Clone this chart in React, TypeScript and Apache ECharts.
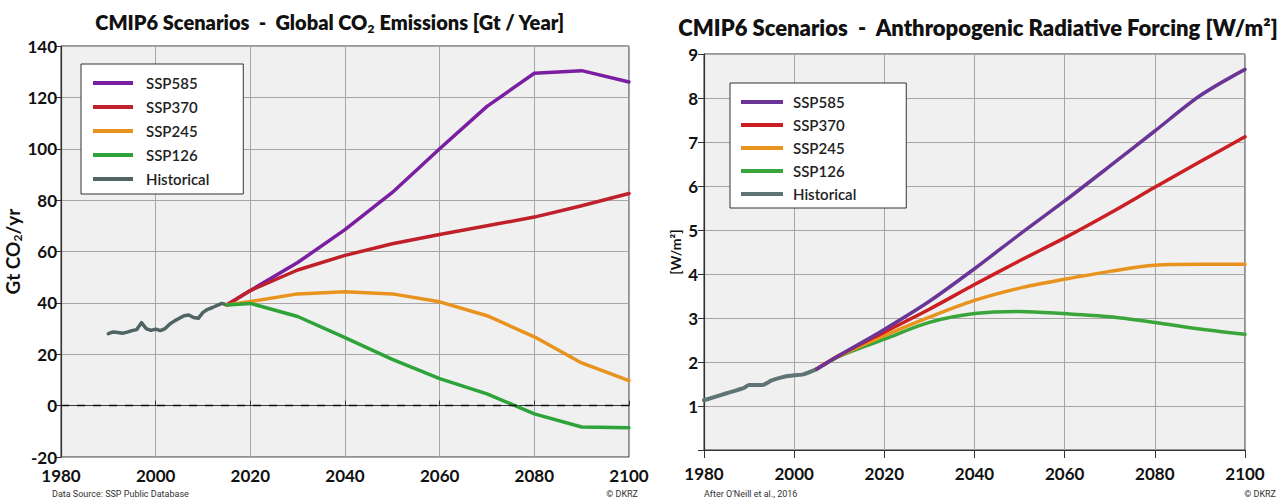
import React, { useEffect, useRef } from "react";
import * as echarts from "echarts";

// ---------- Left chart: Global CO2 emissions [Gt / Year] ----------
const emHistYears = [1990, 1991, 1992, 1993, 1994, 1995, 1996, 1997, 1998, 1999, 2000, 2001, 2002, 2003, 2004, 2005, 2006, 2007, 2008, 2009, 2010, 2011, 2012, 2013, 2014, 2015];
const emHistValues = [28.0, 28.7, 28.5, 28.2, 28.6, 29.2, 29.6, 32.3, 30.0, 29.3, 29.8, 29.2, 30.0, 31.8, 33.0, 34.0, 35.0, 35.3, 34.3, 34.0, 36.3, 37.5, 38.2, 39.0, 39.8, 39.2];
const emScenYears = [2015, 2020, 2030, 2040, 2050, 2060, 2070, 2080, 2090, 2100];
const emSSP585 = [39.2, 44.8, 55.7, 68.5, 83.0, 100.0, 116.5, 129.4, 130.4, 126.0];
const emSSP370 = [39.2, 44.8, 52.8, 58.5, 63.0, 66.6, 70.0, 73.4, 77.8, 82.6];
const emSSP245 = [39.2, 40.5, 43.5, 44.3, 43.5, 40.4, 35.0, 26.8, 16.6, 9.7];
const emSSP126 = [39.2, 39.8, 34.7, 26.5, 18.0, 10.5, 4.6, -3.2, -8.3, -8.6];

// ---------- Right chart: Anthropogenic radiative forcing [W/m2] ----------
const rfHistYears = [1980, 1985, 1989, 1990, 1993, 1995, 1998, 2000, 2002, 2005];
const rfHistValues = [1.13, 1.29, 1.42, 1.48, 1.48, 1.58, 1.67, 1.70, 1.72, 1.84];
const rfScenYears = [2005, 2010, 2020, 2030, 2040, 2050, 2060, 2070, 2080, 2090, 2100];
const rfSSP585 = [1.84, 2.15, 2.74, 3.38, 4.12, 4.90, 5.66, 6.45, 7.25, 8.05, 8.65];
const rfSSP370 = [1.84, 2.15, 2.68, 3.20, 3.76, 4.30, 4.82, 5.38, 5.97, 6.55, 7.12];
const rfSSP245 = [1.84, 2.14, 2.60, 3.02, 3.40, 3.68, 3.88, 4.06, 4.20, 4.22, 4.22];
const rfSSP126 = [1.84, 2.13, 2.52, 2.90, 3.10, 3.15, 3.10, 3.03, 2.90, 2.75, 2.63];

const legendNames = ["SSP585", "SSP370", "SSP245", "SSP126", "Historical"];
const xTicks = [1980, 2000, 2020, 2040, 2060, 2080, 2100];

const leftColors: Record<string, string> = {
  SSP585: "#7b1fa2",
  SSP370: "#c0202a",
  SSP245: "#e8931e",
  SSP126: "#2ea33a",
  Historical: "#4f6463",
};
const rightColors: Record<string, string> = {
  SSP585: "#6a3596",
  SSP370: "#cc1f24",
  SSP245: "#e8931e",
  SSP126: "#3aa53a",
  Historical: "#5f7474",
};

const FONT = "Lato, 'Open Sans', sans-serif";

function pairs(xs: number[], ys: number[]) {
  return xs.map((x, i) => [x, ys[i]]);
}

export default function App() {
  const ref = useRef<HTMLDivElement>(null);

  useEffect(() => {
    if (!ref.current) return;
    const chart = echarts.init(ref.current, undefined, { renderer: "svg" });

    const axisLabel = {
      fontSize: 17,
      fontWeight: "bold" as const,
      color: "#111",
      fontFamily: FONT,
    };
    const splitLine = { show: true, lineStyle: { color: "#a6a6a6", width: 1 } };
    const axisLine = { show: true, lineStyle: { color: "#333", width: 1.2 } };
    const yearFmt = (v: number) => String(v);

    const lineSeries = (
      name: string,
      data: number[][],
      color: string,
      idx: number,
      width: number,
      smooth: number | boolean,
      extra: any = {}
    ) => ({
      type: "line",
      name,
      xAxisIndex: idx,
      yAxisIndex: idx,
      data,
      showSymbol: false,
      symbol: "none",
      smooth,
      lineStyle: { color, width, join: "round", cap: "round" },
      itemStyle: { color },
      ...extra,
    });

    const legendBase = {
      orient: "vertical",
      icon: "rect",
      itemHeight: 4,
      selectedMode: false,
      backgroundColor: "#ffffff",
      borderColor: "#333",
      borderWidth: 1,
      borderRadius: 0,
    };

    const titleRich = (size: number) => ({
      a: {
        fontSize: size,
        fontWeight: 800,
        fontFamily: FONT,
        fill: "#111",
        lineHeight: size + 5,
        verticalAlign: "middle",
      },
      s: {
        fontSize: Math.round(size * 0.62),
        fontWeight: 800,
        fontFamily: FONT,
        fill: "#111",
        lineHeight: 12,
        verticalAlign: "bottom",
      },
    });

    chart.setOption({
      animation: false,
      backgroundColor: "#ffffff",
      grid: [
        {
          left: 61,
          top: 46,
          width: 568,
          height: 411,
          show: true,
          backgroundColor: "#f0f0f0",
          borderColor: "#333",
          borderWidth: 1,
        },
        {
          left: 704,
          top: 54,
          width: 541,
          height: 396,
          show: true,
          backgroundColor: "#f0f0f0",
          borderColor: "#333",
          borderWidth: 1,
        },
      ],
      xAxis: [
        {
          type: "value",
          gridIndex: 0,
          min: xTicks[0],
          max: xTicks[xTicks.length - 1],
          interval: 20,
          axisLine,
          axisTick: { show: true, inside: true, length: 5, lineStyle: { color: "#333" } },
          axisLabel: { ...axisLabel, margin: 10, formatter: yearFmt },
          splitLine,
        },
        {
          type: "value",
          gridIndex: 1,
          min: xTicks[0],
          max: xTicks[xTicks.length - 1],
          interval: 20,
          axisLine,
          axisTick: { show: true, length: 8, lineStyle: { color: "#333" } },
          axisLabel: { ...axisLabel, margin: 15, formatter: yearFmt },
          splitLine,
        },
      ],
      yAxis: [
        {
          type: "value",
          gridIndex: 0,
          min: -20,
          max: 140,
          interval: 20,
          axisLine,
          axisTick: { show: true, length: 5, lineStyle: { color: "#333" } },
          axisLabel: { ...axisLabel, margin: 4 },
          splitLine,
          name: "{a|Gt CO}{s|2}{a|/yr}",
          nameLocation: "middle",
          nameRotate: 90,
          nameGap: 32,
          nameTextStyle: {
            rich: {
              a: { fontSize: 19, fontWeight: "bold", fontFamily: FONT, color: "#111", lineHeight: 22, verticalAlign: "middle" },
              s: { fontSize: 12, fontWeight: "bold", fontFamily: FONT, color: "#111", lineHeight: 10, verticalAlign: "bottom" },
            },
          },
        },
        {
          type: "value",
          gridIndex: 1,
          min: 0,
          max: 9,
          interval: 1,
          axisLine,
          axisTick: { show: true, length: 6, lineStyle: { color: "#333" } },
          axisLabel: {
            ...axisLabel,
            margin: 6,
            formatter: (v: number) => (v === 0 ? "" : String(v)),
          },
          splitLine,
          name: "[W/m²]",
          nameLocation: "middle",
          nameRotate: 90,
          nameGap: 22,
          nameTextStyle: { fontSize: 14, fontWeight: "bold", fontFamily: FONT, color: "#111" },
        },
      ],
      legend: [
        {
          ...legendBase,
          left: 81,
          top: 64,
          padding: [10, 34, 6, 12],
          itemWidth: 40,
          itemGap: 6,
          textStyle: { fontSize: 15, fontWeight: 600, fontFamily: FONT, color: "#222", lineHeight: 18, padding: [0, 0, 0, 8] },
          data: legendNames.map((n) => ({ name: n, itemStyle: { color: leftColors[n] } })),
        },
        {
          ...legendBase,
          left: 730,
          top: 83,
          padding: [10, 50, 5, 11],
          itemWidth: 42,
          itemGap: 5,
          textStyle: { fontSize: 15, fontWeight: 600, fontFamily: FONT, color: "#222", lineHeight: 18, padding: [0, 0, 0, 5] },
          data: legendNames.map((n) => ({ name: n, itemStyle: { color: rightColors[n] } })),
        },
      ],
      graphic: [
        {
          type: "text",
          x: 330,
          y: 22,
          style: {
            text: "{a|CMIP6 Scenarios  -  Global CO}{s|2}{a| Emissions [Gt / Year]}",
            rich: titleRich(20),
            align: "center",
            verticalAlign: "middle",
          },
        },
        {
          type: "text",
          x: 978,
          y: 27,
          style: {
            text: "{a|CMIP6 Scenarios  -  Anthropogenic Radiative Forcing [W/m²]}",
            rich: titleRich(22),
            align: "center",
            verticalAlign: "middle",
          },
        },
        {
          type: "text",
          x: 52,
          y: 494,
          style: { text: "Data Source: SSP Public Database", fontSize: 9, fontFamily: "Roboto, sans-serif", fill: "#333", align: "left", verticalAlign: "middle" },
        },
        {
          type: "text",
          x: 638,
          y: 494,
          style: { text: "© DKRZ", fontSize: 9, fontFamily: "Roboto, sans-serif", fill: "#333", align: "right", verticalAlign: "middle" },
        },
        {
          type: "text",
          x: 704,
          y: 494,
          style: { text: "After O'Neill et al., 2016", fontSize: 9, fontFamily: "Roboto, sans-serif", fill: "#333", align: "left", verticalAlign: "middle" },
        },
        {
          type: "text",
          x: 1276,
          y: 494,
          style: { text: "© DKRZ", fontSize: 9, fontFamily: "Roboto, sans-serif", fill: "#333", align: "right", verticalAlign: "middle" },
        },
      ],
      series: [
        lineSeries("Historical", pairs(emHistYears, emHistValues), leftColors.Historical, 0, 3.5, false),
        lineSeries("SSP585", pairs(emScenYears, emSSP585), leftColors.SSP585, 0, 3.5, false),
        lineSeries("SSP370", pairs(emScenYears, emSSP370), leftColors.SSP370, 0, 3.5, false),
        lineSeries("SSP245", pairs(emScenYears, emSSP245), leftColors.SSP245, 0, 3.5, false),
        lineSeries("SSP126", pairs(emScenYears, emSSP126), leftColors.SSP126, 0, 3.5, false, {
          markLine: {
            silent: true,
            symbol: "none",
            label: { show: false },
            lineStyle: { type: [8, 8], color: "#111", width: 1.3 },
            data: [{ yAxis: 0 }],
          },
        }),
        lineSeries("Historical", pairs(rfHistYears, rfHistValues), rightColors.Historical, 1, 4, 0.2),
        lineSeries("SSP126", pairs(rfScenYears, rfSSP126), rightColors.SSP126, 1, 3.5, 0.3),
        lineSeries("SSP245", pairs(rfScenYears, rfSSP245), rightColors.SSP245, 1, 3.5, 0.3),
        lineSeries("SSP370", pairs(rfScenYears, rfSSP370), rightColors.SSP370, 1, 3.5, 0.3),
        lineSeries("SSP585", pairs(rfScenYears, rfSSP585), rightColors.SSP585, 1, 3.5, 0.3),
      ],
    });

    return () => chart.dispose();
  }, []);

  return (
    <div
      ref={ref}
      style={{ position: "absolute", left: 0, top: 0, width: 1282, height: 499, background: "#fff" }}
    />
  );
}
